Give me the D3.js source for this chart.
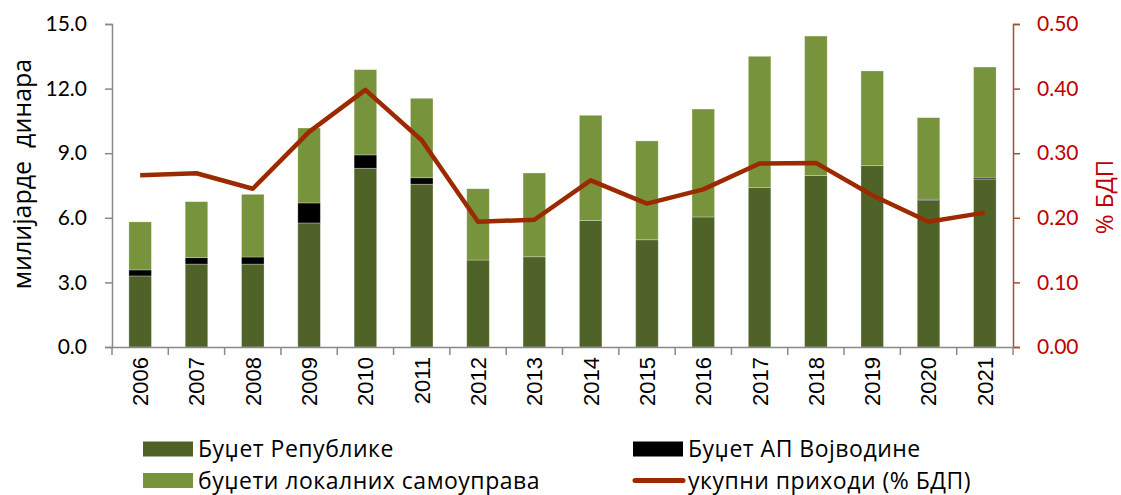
<!DOCTYPE html>
<html>
<head>
<meta charset="utf-8">
<script src="https://cdn.jsdelivr.net/npm/d3@7"></script>
<style>
  body { margin: 0; background: #fff; }
  text { font-family: Lato, "Noto Sans", sans-serif; }
  .ttl, .leg { font-family: "Open Sans", "Noto Sans", sans-serif; white-space: pre; }
  .leg { letter-spacing: 0.5px; }
  .yr { font-family: "Liberation Sans", Arial, sans-serif; }
</style>
</head>
<body>
<div id="chart"></div>
<script>
// data
var years      = ["2006","2007","2008","2009","2010","2011","2012","2013","2014","2015","2016","2017","2018","2019","2020","2021"];
var republika  = [3.30, 3.85, 3.85, 5.76, 8.30, 7.56, 4.04, 4.19, 5.87, 4.98, 6.04, 7.40, 7.96, 8.42, 6.80, 7.80];
var vojvodina  = [0.28, 0.30, 0.33, 0.93, 0.62, 0.30, 0.00, 0.00, 0.00, 0.00, 0.00, 0.00, 0.00, 0.00, 0.06, 0.05];
var lokalne    = [2.23, 2.60, 2.91, 3.48, 3.96, 3.69, 3.31, 3.89, 4.89, 4.59, 5.01, 6.10, 6.48, 4.40, 3.79, 5.15];
var pctBdp     = [0.266, 0.269, 0.245, 0.333, 0.398, 0.320, 0.194, 0.197, 0.258, 0.222, 0.244, 0.284, 0.285, 0.235, 0.194, 0.208];
var leftTicks  = [0, 3, 6, 9, 12, 15];
var rightTicks = [0, 0.1, 0.2, 0.3, 0.4, 0.5];

var W = 1121, H = 495;
var margin = {top: 24, right: 108, bottom: 148, left: 112};
var width  = W - margin.left - margin.right;
var height = H - margin.top - margin.bottom;

var colors = {rep: "#4F6228", voj: "#000000", lok: "#77933C", line: "#9C2A00"};

var svg = d3.select("#chart").append("svg")
  .attr("width", W)
  .attr("height", H);

var g = svg.append("g")
  .attr("transform", "translate(" + margin.left + "," + margin.top + ")");

var x = d3.scaleBand().domain(years).range([0, width]).paddingInner(0.6).paddingOuter(0.3);
var xb = d3.scaleBand().domain(years).range([0, width]);
var y = d3.scaleLinear().domain([0, 15]).range([height, 0]);
var y2 = d3.scaleLinear().domain([0, 0.5]).range([height, 0]);

// stacked bars
var rows = years.map(function(yr, i) {
  return {year: yr, rep: republika[i], voj: vojvodina[i], lok: lokalne[i]};
});
var stack = d3.stack().keys(["rep", "voj", "lok"])(rows);

g.selectAll(".layer")
  .data(stack)
  .enter().append("g")
  .attr("class", "layer")
  .attr("fill", function(d) { return colors[d.key]; })
  .selectAll("rect")
  .data(function(d) { return d; })
  .enter().append("rect")
  .attr("x", function(d) { return x(d.data.year); })
  .attr("width", x.bandwidth())
  .attr("y", function(d) { return y(d[1]); })
  .attr("height", function(d) { return y(d[0]) - y(d[1]); })
  .attr("stroke", "#ffffff")
  .attr("stroke-opacity", 0.35)
  .attr("stroke-width", 0.8);

// line
var line = d3.line()
  .x(function(d, i) { return xb(years[i]) + xb.bandwidth() / 2; })
  .y(function(d) { return y2(d); });

g.append("path")
  .datum(pctBdp)
  .attr("fill", "none")
  .attr("stroke", colors.line)
  .attr("stroke-width", 4.5)
  .attr("stroke-linejoin", "round")
  .attr("d", line);

// left axis
var yAxis = d3.axisLeft(y).tickValues(leftTicks).tickFormat(d3.format(".1f")).tickSize(7).tickPadding(18);
var ya = g.append("g").call(yAxis);
ya.select(".domain").attr("stroke", "#898989").attr("stroke-width", 1.5);
ya.selectAll(".tick line").attr("stroke", "#898989").attr("stroke-width", 1.5);
ya.selectAll("text").attr("font-size", 21).attr("fill", "#000");

// right axis
var y2Axis = d3.axisRight(y2).tickValues(rightTicks).tickFormat(d3.format(".2f")).tickSize(7).tickPadding(17);
var ra = g.append("g").attr("transform", "translate(" + width + ",0)").call(y2Axis);
ra.select(".domain").attr("stroke", "#A0522D").attr("stroke-width", 1.5);
ra.selectAll(".tick line").attr("stroke", "#A0522D").attr("stroke-width", 1.5);
ra.selectAll("text").attr("font-size", 21).attr("fill", "#C00000");

// x axis
var xAxis = d3.axisBottom(xb).tickSize(0).tickPadding(0);
var xa = g.append("g").attr("transform", "translate(0," + height + ")").call(xAxis);
xa.select(".domain").attr("stroke", "#898989").attr("stroke-width", 1.5);
xa.selectAll(".tick text")
  .attr("class", "yr")
  .attr("transform", "rotate(-90)")
  .attr("x", -10).attr("y", 0).attr("dy", "0.36em")
  .attr("text-anchor", "end")
  .attr("font-size", 22).attr("fill", "#000");
// boundary ticks between categories
xa.selectAll(".sep")
  .data(d3.range(years.length + 1))
  .enter().append("line")
  .attr("x1", function(i) { return i * xb.step(); })
  .attr("x2", function(i) { return i * xb.step(); })
  .attr("y1", 0).attr("y2", 8)
  .attr("stroke", "#898989").attr("stroke-width", 1.5);

// axis titles
svg.append("text")
  .attr("class", "ttl")
  .attr("transform", "translate(31,174) rotate(-90)")
  .attr("text-anchor", "middle")
  .attr("font-size", 25)
  .text("милијарде  динара");

svg.append("text")
  .attr("class", "ttl")
  .attr("transform", "translate(1113,197) rotate(-90)")
  .attr("text-anchor", "middle")
  .attr("font-size", 24)
  .attr("fill", "#C00000")
  .text("% БДП");

// legend
var legend = [
  {label: "Буџет Републике", color: colors.rep, kind: "rect", x: 143, y: 449},
  {label: "Буџет АП Војводине", color: colors.voj, kind: "rect", x: 633, y: 449},
  {label: "буџети локалних самоуправа", color: colors.lok, kind: "rect", x: 143, y: 480.5},
  {label: "укупни приходи (% БДП)", color: colors.line, kind: "line", x: 633, y: 480.5}
];

var lg = svg.selectAll(".legend")
  .data(legend)
  .enter().append("g")
  .attr("transform", function(d) { return "translate(" + d.x + "," + d.y + ")"; });

lg.filter(function(d) { return d.kind === "rect"; })
  .append("rect")
  .attr("x", 0).attr("y", -7.5).attr("width", 50).attr("height", 15)
  .attr("fill", function(d) { return d.color; });

lg.filter(function(d) { return d.kind === "line"; })
  .append("line")
  .attr("x1", 2).attr("x2", 50).attr("y1", 0).attr("y2", 0)
  .attr("stroke", function(d) { return d.color; })
  .attr("stroke-width", 5)
  .attr("stroke-linecap", "round");

lg.append("text")
  .attr("class", "leg")
  .attr("x", 55).attr("y", 0).attr("dy", "0.36em")
  .attr("font-size", 23)
  .text(function(d) { return d.label; });
</script>
</body>
</html>
